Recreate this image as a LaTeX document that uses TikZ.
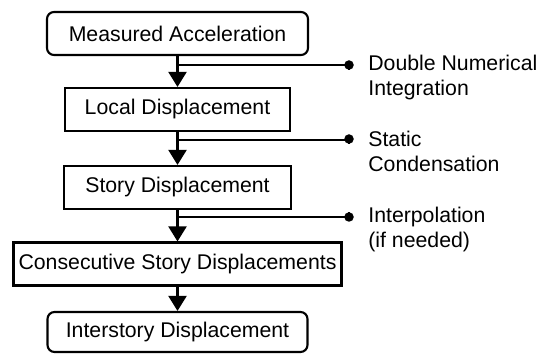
\documentclass[tikz,border=0pt]{standalone}
\usepackage{fontspec}
\setmainfont{Liberation Sans}
\usetikzlibrary{arrows.meta}

\tikzset{
  stepbox/.style={draw, line width=1.2pt, minimum height=0.86cm, inner sep=2pt,
    font=\fontsize{12.1}{14.2}\selectfont},
  endbox/.style={stepbox, rounded corners=4pt},
  flow/.style={line width=1.2pt, -{Triangle[width=0.36cm,length=0.3cm]}},
  side/.style={line width=1.2pt},
  dot/.style={circle, fill=black, inner sep=0pt, minimum size=0.19cm},
  note/.style={anchor=west, align=left, inner sep=0pt, font=\fontsize{12.1}{14.2}\selectfont}
}

\begin{document}
\begin{tikzpicture}
        \useasboundingbox (0,0) rectangle (10.8,-7.08);

        \node[endbox, minimum width=5.22cm] (acc) at (3.55,-0.67) {Measured Acceleration};
        \node[stepbox, minimum width=4.5cm] (local) at (3.55,-2.19) {Local Displacement};
        \node[stepbox, minimum width=4.54cm] (story) at (3.55,-3.75) {Story Displacement};
        \node[stepbox, minimum width=6.56cm] (consec) at (3.55,-5.28) {Consecutive Story Displacements};
        \node[endbox, minimum width=5.2cm, minimum height=0.8cm] (inter) at (3.55,-6.64) {Interstory Displacement};

        % main chain
        \draw[flow] (acc.south) -- coordinate[pos=0.3] (b1) (local.north);
        \draw[flow] (local.south) -- coordinate[pos=0.24] (b2) (story.north);
        \draw[flow] (story.south) -- coordinate[pos=0.22] (b3) (consec.north);
        \draw[flow] (consec.south) -- (inter.north);

        % side branches
        \node[dot] (d1) at (6.98,-1.3) {};
        \node[dot] (d2) at (6.98,-2.78) {};
        \node[dot] (d3) at (6.98,-4.34) {};
        \draw[side] (b1) -- (b1 -| d1.center) -- (d1);
        \draw[side] (b2) -- (b2 -| d2.center) -- (d2);
        \draw[side] (b3) -- (b3 -| d3.center) -- (d3);

        \node[note] (n1) at (7.36,-1.55) {Double Numerical\\Integration};
        \node[note] (n2) at (7.36,-3.03) {Static\\Condensation};
        \node[note] (n3) at (7.36,-4.59) {Interpolation\\(if needed)};
\end{tikzpicture}
\end{document}
